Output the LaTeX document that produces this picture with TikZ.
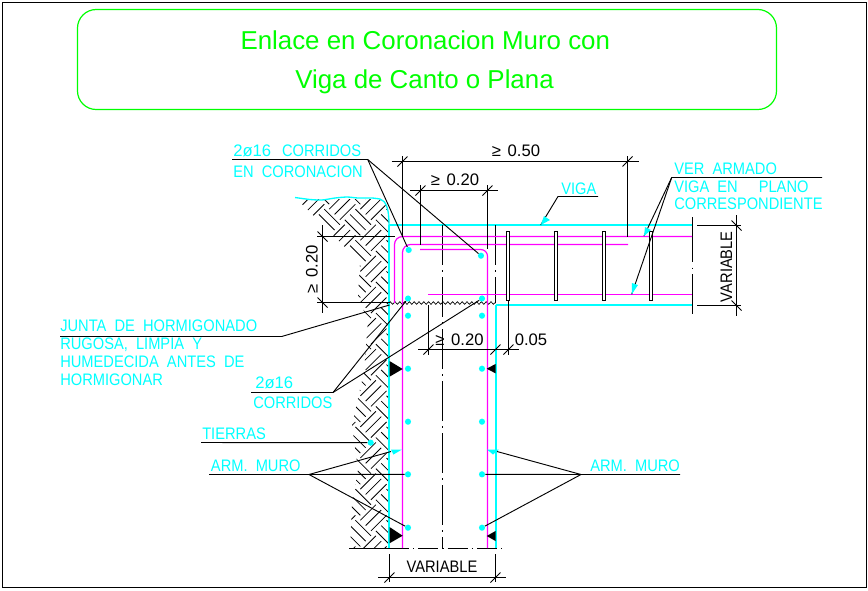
\documentclass[tikz,border=0pt]{standalone}
\usepackage{fontspec}
\setmainfont{Liberation Sans}
\newfontfamily\cadfont{Liberation Sans}[FakeStretch=0.88,WordSpace=2]
\newfontfamily\numfont{Liberation Sans}
\usetikzlibrary{decorations.pathmorphing}
\definecolor{cadcyan}{RGB}{0,255,255}
\definecolor{cadmag}{RGB}{255,0,255}
\definecolor{cadgreen}{RGB}{0,255,0}
\newcommand{\tickh}[1]{\draw[dimline] ([shift={(-5,5)}]#1) -- ([shift={(5,-5)}]#1);}
\newcommand{\tickv}[1]{\draw[dimline] ([shift={(-5,-5)}]#1) -- ([shift={(5,5)}]#1);}
\begin{document}
\begin{tikzpicture}[x=0.75pt, y=-0.75pt,
    dimline/.style = {line width=0.75pt},
    lead/.style = {line width=0.7pt},
    axis/.style = {line width=0.75pt, dash pattern=on 30pt off 4pt on 1pt off 4pt},
    mag/.style = {cadmag, line width=0.9pt},
    cy/.style = {cadcyan, line width=1pt},
    hatch/.style = {line width=0.6pt},
    dot/.style = {circle, fill=cadcyan, inner sep=0pt, minimum size=4.6pt},
    head/.style = {fill=cadcyan, draw=none},
    txt/.style = {cadcyan, font=\cadfont\fontsize{12.5}{12.5}\selectfont, anchor=base west, inner sep=0pt},
    dimtxt/.style = {black, font=\cadfont\fontsize{12.5}{12.5}\selectfont, inner sep=0pt},
    numtxt/.style = {black, font=\numfont\fontsize{12.5}{12.5}\selectfont, inner sep=0pt},
    title/.style = {cadgreen, font=\fontsize{19.4}{20}\selectfont, anchor=base, inner sep=0pt},
    stirrup/.style = {draw=black, fill=white, line width=0.7pt, minimum width=2.2pt, minimum height=52pt, inner sep=0pt},
    wedge/.style = {fill=black, draw=none}]
\useasboundingbox (0,0) rectangle (868,590);
\draw[line width=0.75pt] (2.5,2.5) rectangle (866.5,587.5);

% title box
\draw[cadgreen, line width=0.9pt, rounded corners=14pt] (77.5,9.5) rectangle (776.5,109.5);
\node[title] (title1) at (425.3,49.3) {Enlace en Coronacion Muro con};
\node[title] (title2) at (424.5,88.3) {Viga de Canto o Plana};

% earth hatch
\begin{scope}
\clip (297,199) -- (385,199) -- (389,214) -- (389,548) -- (350,548) -- (352,505) -- (358,470) -- (352,425) -- (364,372) -- (368,320) -- (358,298) -- (360,262) -- cycle;
\begin{scope}[shift={(389,300)}, rotate=45]
\foreach \i in {-10,...,10}
  \foreach \j in {-12,...,12} {
    \pgfmathtruncatemacro{\flip}{mod(\i+\j+40,2)}
    \ifnum\flip=0
      \foreach \k in {3.5,11,18.5}
        \draw[hatch] (\i*22,\j*22+\k) -- (\i*22+22,\j*22+\k);
    \else
      \foreach \k in {3.5,11,18.5}
        \draw[hatch] (\i*22+\k,\j*22) -- (\i*22+\k,\j*22+22);
    \fi
  }
\end{scope}
\end{scope}
\draw[cy] plot[smooth, tension=0.4] coordinates {(295,197.5) (310,199.5) (322,200) (335,198) (347,197) (358,198) (372,198) (380,199)} .. controls (386,201) and (389,208) .. (389,225);

% concrete outline
\draw[cy] (389,225) -- (692,225);
\draw[cy] (389,225) -- (389,548);
\draw[cy] (496,305) -- (692,305);
\draw[cy] (496,305) -- (496,548);

% axis lines
\draw[axis] (442.5,225) -- (442.5,548);
\draw[axis] (495.5,225) -- (495.5,303);
\draw[axis, dash pattern=on 34pt off 4pt on 1pt off 4pt] (692.5,217) -- (692.5,314);
\draw[line width=0.75pt] (349,548.5) -- (389,548.5);
\draw[line width=0.75pt, dash pattern=on 15pt off 3pt on 1pt off 3pt] (389,548.5) -- (506,548.5);

% junta
\draw[line width=0.5pt, decorate, decoration={zigzag, segment length=3.6pt, amplitude=1pt}] (389,303) -- (495.5,303);

% rebars
\draw[mag, rounded corners=6pt] (394.5,303) -- (394.5,236.5) -- (692,236.5);
\draw[mag, rounded corners=6pt] (402.5,548) -- (402.5,244.5) -- (628,244.5);
\draw[mag, rounded corners=5pt] (420,249.5) -- (487.5,249.5) -- (487.5,548);
\draw[mag] (428,294.5) -- (692,294.5);

% stirrups
\foreach \x/\n in {508/s1, 556/s2, 604/s3, 651.3/s4}
  \node[stirrup] (\n) at (\x,265.8) {};

% bars
\node[dot] (b1) at (408.7,250) {};
\node[dot] (b2) at (481,255.7) {};
\node[dot] (b3) at (408,298.5) {};
\node[dot] (b4) at (482,298.5) {};
\foreach \y/\n in {315.7/1, 368.7/2, 421.7/3, 474.3/4, 527.7/5} {
  \node[dot] (l\n) at (408,\y) {};
  \node[dot] (r\n) at (482,\y) {};
}
\node[dot] (e1) at (370.7,442.7) {};

% wedges
\fill[wedge] (389.5,361) -- (402.7,369) -- (389.5,376.7) -- cycle;
\fill[wedge] (495.5,364) -- (486.7,368.7) -- (495.5,373.3) -- cycle;
\fill[wedge] (389.5,527) -- (402.7,535.7) -- (389.5,543.3) -- cycle;
\fill[wedge] (495.5,531) -- (486.7,536) -- (495.5,541) -- cycle;

% dimensions
\coordinate (a1) at (402.5,161.5);
\coordinate (a2) at (627.5,161.5);
\draw[dimline] (391.7,161.5) -- (639,161.5);
\draw[dimline] (402.5,156) -- (402.5,236.5);
\draw[dimline] (627.5,156) -- (627.5,236.5);
\tickh{a1} \tickh{a2}
\node[numtxt] (d50) at (516,151) {≥\hspace{1.5pt} 0.50};

\coordinate (c1) at (420.5,190.5);
\coordinate (c2) at (487.5,190.5);
\draw[dimline] (410,190.5) -- (497.7,190.5);
\draw[dimline] (420.5,185) -- (420.5,244.5);
\draw[dimline] (487.5,185) -- (487.5,249);
\tickh{c1} \tickh{c2}
\node[numtxt] (d20a) at (455,180) {≥\hspace{1.5pt} 0.20};

\coordinate (f1) at (322.5,236.5);
\coordinate (f2) at (322.5,302.5);
\draw[dimline] (322.5,225) -- (322.5,313);
\draw[dimline] (317,236.5) -- (394.5,236.5);
\draw[dimline] (317,302.5) -- (389.5,302.5);
\tickv{f1} \tickv{f2}
\node[numtxt, rotate=90] (d20b) at (312,269.5) {≥\hspace{1.5pt} 0.20};

\coordinate (g1) at (428.5,349.5);
\coordinate (g2) at (495.5,349.5);
\coordinate (g3) at (508.5,349.5);
\draw[dimline] (418,349.5) -- (519,349.5);
\draw[dimline] (428.5,305) -- (428.5,355);
\draw[dimline] (508.5,301) -- (508.5,355);
\tickh{g1} \tickh{g2} \tickh{g3}
\node[numtxt] (d20c) at (459.5,339.8) {≥\hspace{1.5pt} 0.20};
\node[numtxt] (d05) at (531,339.8) {0.05};

\coordinate (h1) at (736.5,225.5);
\coordinate (h2) at (736.5,305.5);
\draw[dimline] (736.5,215) -- (736.5,315.7);
\draw[dimline] (697,225.5) -- (741,225.5);
\draw[dimline] (697,305.5) -- (741,305.5);
\tickv{h1} \tickv{h2}
\node[dimtxt, rotate=90] (vvar) at (726.3,266.7) {VARIABLE};

\coordinate (k1) at (389.5,577.5);
\coordinate (k2) at (495.5,577.5);
\draw[dimline] (378,577.5) -- (505.7,577.5);
\draw[dimline] (389.5,554) -- (389.5,582);
\draw[dimline] (495.5,554) -- (495.5,582);
\tickh{k1} \tickh{k2}
\node[dimtxt] (hvar) at (442,566.5) {VARIABLE};

% labels
\node[txt] (c16a) at (233,156) {{\numfont 2ø16} \hspace{2pt}CORRIDOS};
\node[txt] (c16b) at (233,177) {EN CORONACION};
\node[txt] (junta1) at (60,331.7) {JUNTA DE HORMIGONADO};
\node[txt] (junta2) at (60,349) {RUGOSA, LIMPIA Y};
\node[txt] (junta3) at (60,367) {HUMEDECIDA ANTES DE};
\node[txt] (junta4) at (60,385) {HORMIGONAR};
\node[txt] (w16a) at (255,388.7) {{\numfont 2ø16}};
\node[txt] (w16b) at (253,408) {CORRIDOS};
\node[txt] (tierras) at (202,439) {TIERRAS};
\node[txt] (arm1) at (210.7,471) {ARM. MURO};
\node[txt] (arm2) at (590,471) {ARM. MURO};
\node[txt] (viga) at (561,194) {VIGA};
\node[txt] (ver1) at (674,174.3) {VER ARMADO};
\node[txt] (ver2) at (674,192.3) {VIGA EN\ \ \hspace{3.5pt}PLANO};
\node[txt] (ver3) at (674,209) {CORRESPONDIENTE};

% leaders
\coordinate (p1s) at (232,159.5);
\coordinate (p1) at (367.7,159.5);
\coordinate (p2s) at (60,336.5);
\coordinate (p2) at (281.7,336.5);
\coordinate (p2e) at (389.5,305);
\coordinate (p3s) at (251,392.5);
\coordinate (p3) at (333,392.5);
\coordinate (p4s) at (201,442.5);
\coordinate (p5s) at (209,474.5);
\coordinate (p5) at (309,474.5);
\coordinate (p5t) at (391,451.5);
\coordinate (p6) at (581,474.5);
\coordinate (p6e) at (680,474.5);
\coordinate (p6t) at (497,451.5);
\coordinate (p7) at (558,196.5);
\coordinate (p7e) at (598,196.5);
\coordinate (p7t) at (540.7,225);
\coordinate (p8) at (671.7,177.5);
\coordinate (p8e) at (822,177.5);
\coordinate (p8a) at (644,236);
\coordinate (p8b) at (631.7,294.3);
\draw[lead] (p1s) -- (p1) -- (b1);
\draw[lead] (p1) -- (b2);
\draw[lead] (p2s) -- (p2) -- (p2e);
\draw[lead] (p3s) -- (p3) -- (b3);
\draw[lead] (p3) -- (b4);
\draw[lead] (p4s) -- (e1);
\draw[lead] (p5s) -- (p5) -- (l4);
\draw[lead] (p5) -- (p5t);
\draw[lead] (p5) -- (l5);
\draw[lead] (p6e) -- (p6) -- (r4);
\draw[lead] (p6) -- (p6t);
\draw[lead] (p6) -- (r5);
\draw[lead] (p7e) -- (p7) -- (p7t);
\draw[lead] (p8e) -- (p8) -- (p8a);
\draw[lead] (p8) -- (p8b);

% arrow heads
\fill[head] (391,449.5) -- (402,449.5) -- (393.5,454.5) -- cycle;
\fill[head] (487,449.5) -- (499,449.5) -- (493,454.5) -- cycle;
\fill[head] (p7t) -- (544,216) -- (550,220) -- cycle;
\fill[head] (p8a) -- (645,227) -- (651,230) -- cycle;
\fill[head] (p8b) -- (632,283) -- (638,285) -- cycle;
\end{tikzpicture}
\end{document}
